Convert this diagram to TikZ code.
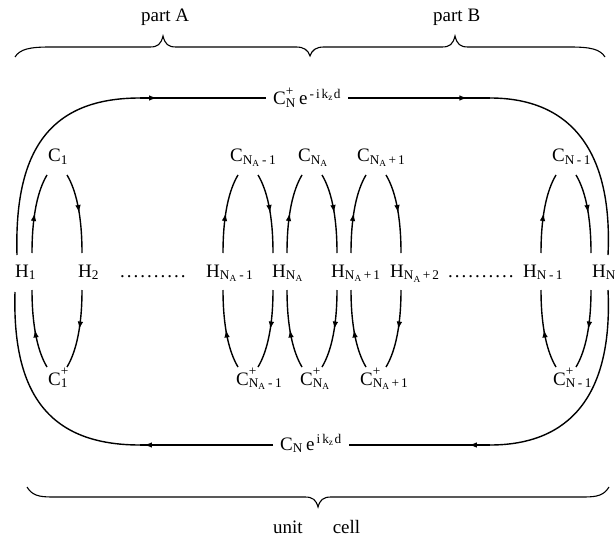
\documentclass[tikz,border=0pt]{standalone}
\usepackage{fontspec}
\setmainfont{Liberation Serif}
\usetikzlibrary{arrows.meta,decorations.markings,calc}
\newcommand\NA{N\textsubscript{A}}
\newcommand\CP[1]{C\rlap{\raisebox{3pt}{\textsuperscript{+}}}\textsubscript{#1}}
\newcommand\mns{\kern2.5pt-\kern2.5pt}
\newcommand\pls{\kern2pt+\kern2pt}
\newcommand\leaderdots{.\kern2pt.\kern2pt.\kern2pt.\kern2pt.\kern2pt.\kern2pt.\kern2pt.\kern2pt.\kern2pt.}
\tikzset{
  lbl/.style={inner sep=0pt, anchor=base west, font=\fontsize{19}{22}\selectfont},
  conn/.style={line width=1.4pt},
  bracestyle/.style={line width=1.1pt},
  arrowat/.style={postaction={decorate}, decoration={markings, mark=at position #1 with {\arrow{Latex[length=8pt,width=5.5pt]}}}},
  arrowat/.default=0.5,
}
\begin{document}
\begin{tikzpicture}[x=1pt,y=-1pt]
\useasboundingbox (0,0) rectangle (615,540);
% top braces
\node[lbl] (partA) at (141,22) {part A};
\node[lbl] (partB) at (433,22) {part B};
\draw[bracestyle] (15,57) .. controls (20,49) and (30,47) .. (50,47) -- (150,47)
  .. controls (158,47) and (161,44) .. (163,36) .. controls (165,44) and (168,47) .. (176,47)
  -- (296,47) .. controls (304,47) and (308,50) .. (310,56) .. controls (312,50) and (316,47) .. (324,47)
  -- (442,47) .. controls (450,47) and (453,44) .. (455,36) .. controls (457,44) and (460,47) .. (468,47)
  -- (570,47) .. controls (590,47) and (600,49) .. (605,57);
% bottom brace
\draw[bracestyle] (27,487) .. controls (32,495) and (38,497) .. (52,497) -- (305,497)
  .. controls (313,497) and (316,500) .. (318,507) .. controls (320,500) and (323,497) .. (331,497)
  -- (584,497) .. controls (598,497) and (604,495) .. (609,487);
\node[lbl] (unitcell) at (273,533) {unit\hspace{30pt}cell};
% H row
\node[lbl] (H1) at (15,277) {H\textsubscript{1}};
\node[lbl] (H2) at (78,277) {H\textsubscript{2}};
\node[lbl] (dots1) at (120,277) {\leaderdots};
\node[lbl] (Hnam1) at (206,277) {H\textsubscript{\NA\mns 1}};
\node[lbl] (Hna) at (272,277) {H\textsubscript{\NA}};
\node[lbl] (Hnap1) at (331,277) {H\textsubscript{\NA\pls 1}};
\node[lbl] (Hnap2) at (390,277) {H\textsubscript{\NA\pls 2}};
\node[lbl] (dots2) at (448,277) {\leaderdots};
\node[lbl] (Hnm1) at (523,277) {H\textsubscript{N\mns 1}};
\node[lbl] (Hn) at (592,277) {H\textsubscript{N}};
% C row
\node[lbl] (C1) at (48,162) {C\textsubscript{1}};
\node[lbl] (Cnam1) at (230,162) {C\textsubscript{\NA\mns 1}};
\node[lbl] (Cna) at (298,162) {C\textsubscript{\NA}};
\node[lbl] (Cnap1) at (357,162) {C\textsubscript{\NA\pls 1}};
\node[lbl] (Cnm1) at (552,162) {C\textsubscript{N\mns 1}};
% C+ row
\node[lbl] (Cp1) at (48,385) {\CP{1}};
\node[lbl] (Cpnam1) at (236,385) {\CP{\NA\mns 1}};
\node[lbl] (Cpna) at (300,385) {\CP{\NA}};
\node[lbl] (Cpnap1) at (360,385) {\CP{\NA\pls 1}};
\node[lbl] (Cpnm1) at (553,385) {\CP{N\mns 1}};
% loops
\foreach \i/\cx in {1/57,2/248,3/312,4/376,5/566}{
  \coordinate (L\i hl) at (\cx-25,253);
  \coordinate (L\i cl) at (\cx-10,175);
  \coordinate (L\i cr) at (\cx+10,175);
  \coordinate (L\i hr) at (\cx+25,253);
  \coordinate (L\i ql) at (\cx-25,290);
  \coordinate (L\i pl) at (\cx-10,367);
  \coordinate (L\i pr) at (\cx+10,367);
  \coordinate (L\i qr) at (\cx+25,290);
  \draw[conn,arrowat] (L\i hl) .. controls +(0,-38) and +(-9,15) .. (L\i cl);
  \draw[conn,arrowat] (L\i cr) .. controls +(9,15) and +(0,-38) .. (L\i hr);
  \draw[conn,arrowat] (L\i pl) .. controls +(-9,-15) and +(0,37) .. (L\i ql);
  \draw[conn,arrowat] (L\i qr) .. controls +(0,37) and +(9,-15) .. (L\i pr);
}
% outer connectors
\node[lbl, inner xsep=7pt] (toplab) at (266,105) {\CP{N}\,e\textsuperscript{\kern2pt-\kern2pt i\kern2pt k\textsubscript{z}\kern1pt d}};
\node[lbl, inner xsep=7pt] (botlab) at (273,450) {C\textsubscript{N}\,e\textsuperscript{\kern2pt i\kern2pt k\textsubscript{z}\kern1pt d}};
\coordinate (o1) at (17,255);
\coordinate (o2) at (140,98);
\coordinate (o3) at (490,98);
\coordinate (o4) at (608,255);
\coordinate (o5) at (608,290);
\coordinate (o6) at (490,445);
\coordinate (o7) at (140,445);
\coordinate (o8) at (15,292);
\draw[conn] (o1) .. controls (14,150) and (50,98) .. (o2);
\draw[conn,arrowat=0.135] (o2) -- (toplab.west |- o2);
\draw[conn,arrowat=0.84] (toplab.east |- o3) -- (o3);
\draw[conn] (o3) .. controls (570,98) and (613,150) .. (o4);
\draw[conn] (o5) .. controls (613,395) and (570,445) .. (o6);
\draw[conn,arrowat=0.15] (o6) -- (botlab.east |- o6);
\draw[conn,arrowat=0.97] (botlab.west |- o6) -- (o7);
\draw[conn] (o7) .. controls (50,445) and (12,395) .. (o8);
\end{tikzpicture}
\end{document}
